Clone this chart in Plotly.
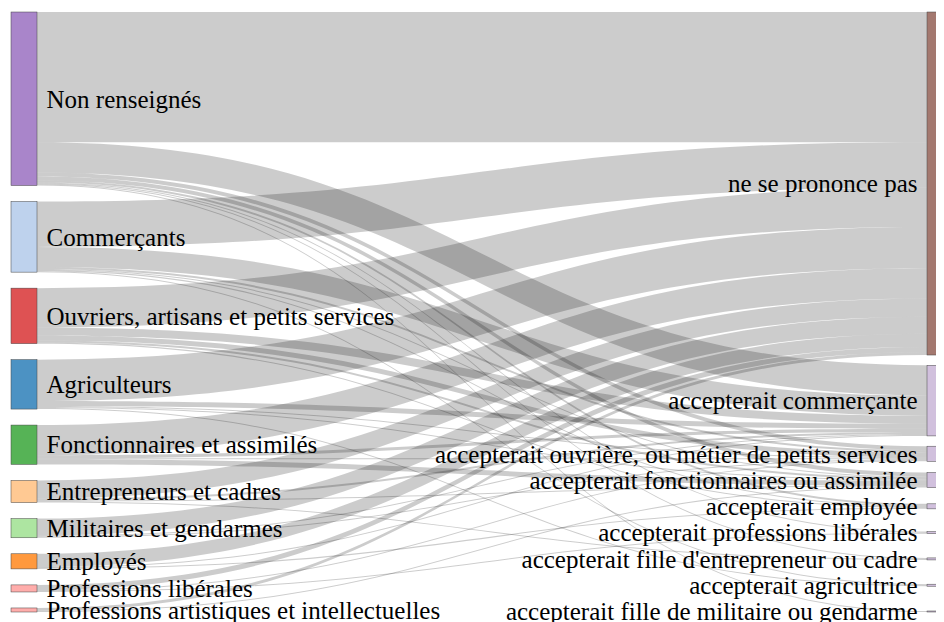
import plotly.graph_objects as go

# Left column (origin) and right column (answer) node labels
origins = [
    "Non renseignés",
    "Commerçants",
    "Ouvriers, artisans et petits services",
    "Agriculteurs",
    "Fonctionnaires et assimilés",
    "Entrepreneurs et cadres",
    "Militaires et gendarmes",
    "Employés",
    "Professions libérales",
    "Professions artistiques et intellectuelles",
]
answers = [
    "ne se prononce pas",
    "accepterait commerçante",
    "accepterait ouvrière, ou métier de petits services",
    "accepterait fonctionnaires ou assimilée",
    "accepterait employée",
    "accepterait professions libérales",
    "accepterait fille d'entrepreneur ou cadre",
    "accepterait agricultrice",
    "accepterait fille de militaire ou gendarme",
]

# Flows: one row per origin, one column per answer (estimated counts)
flows_non_renseignes = [129, 30, 4, 4, 2, 1, 1, 0, 1]
flows_commercants = [45, 20, 2, 1, 1, 0, 0, 1, 0]
flows_ouvriers = [39, 8, 5, 2, 1, 0, 0, 0, 0]
flows_agriculteurs = [41, 5, 1, 1, 0, 0, 0, 1, 0]
flows_fonctionnaires = [30, 3, 1, 5, 0, 0, 0, 0, 0]
flows_entrepreneurs = [18, 2, 0, 1, 0, 0, 1, 0, 0]
flows_militaires = [17, 1, 1, 0, 0, 0, 0, 0, 0]
flows_employes = [13, 1, 0, 0, 1, 0, 0, 0, 0]
flows_liberales = [5, 0, 1, 0, 0, 1, 0, 0, 0]
flows_artistiques = [3, 0, 0, 1, 0, 0, 0, 0, 0]

flows = [
    flows_non_renseignes, flows_commercants, flows_ouvriers, flows_agriculteurs,
    flows_fonctionnaires, flows_entrepreneurs, flows_militaires, flows_employes,
    flows_liberales, flows_artistiques,
]

origin_colors = ["#9467bd", "#aec7e8", "#d62728", "#1f77b4", "#2ca02c",
                 "#ffbb78", "#98df8a", "#ff7f0e", "#ff9896", "#ff9896"]
answer_colors = ["#8c564b"] + ["#c5b0d5"] * 8


def with_alpha(hex_color, a=0.8):
    h = hex_color.lstrip("#")
    r, g, b = int(h[0:2], 16), int(h[2:4], 16), int(h[4:6], 16)
    return f"rgba({r},{g},{b},{a})"


# ---- layout parameters ----
W, H = 948, 618
M = dict(l=3, r=3, t=4, b=14)
PAD = 16
THICK = 26
FONT_SIZE = 25
plot_w = W - M["l"] - M["r"]
plot_h = H - M["t"] - M["b"]

n_left = len(origins)
left_totals = [sum(r) for r in flows]
right_totals = [sum(r[j] for r in flows) for j in range(len(answers))]


def column_centers(totals, ky, min_gap=0.0, label_step=0.0):
    """Keep the given order; gaps are at least min_gap and leave room for
    labels (label_step between centres); leftover space is shared evenly."""
    hs = [t * ky for t in totals]
    gaps = [max(min_gap, label_step - (hs[i] + hs[i + 1]) / 2)
            for i in range(len(hs) - 1)]
    extra = (plot_h - sum(hs) - sum(gaps)) / len(gaps)
    gaps = [g + extra for g in gaps]
    ys, y = [], 0.0
    for i, h in enumerate(hs):
        ys.append((y + h / 2) / plot_h)
        y += h + (gaps[i] if i < len(gaps) else 0)
    return ys


ky = min((plot_h - (len(c) - 1) * PAD) / sum(c) for c in (left_totals, right_totals))
node_y = (column_centers(left_totals, ky)
          + column_centers(right_totals, ky, min_gap=10, label_step=FONT_SIZE + 1))
x_left = (THICK / 2) / plot_w
node_x = [x_left] * n_left + [1 - x_left] * len(answers)

labels = ["\u00a0" + s for s in origins] + [s + "\u00a0" for s in answers]
node_colors = [with_alpha(c) for c in origin_colors + answer_colors]

src, tgt, val = [], [], []
for i, row in enumerate(flows):
    for j, v in enumerate(row):
        if v > 0:
            src.append(i)
            tgt.append(n_left + j)
            val.append(v)

SERIF = "Times New Roman, Liberation Serif, serif"

fig = go.Figure(go.Sankey(
    arrangement="fixed",
    node=dict(
        label=labels,
        color=node_colors,
        pad=PAD,
        thickness=THICK,
        line=dict(color="#444", width=0.5),
        x=node_x,
        y=node_y,
    ),
    link=dict(source=src, target=tgt, value=val, color="rgba(0,0,0,0.2)"),
    textfont=dict(family=SERIF, size=FONT_SIZE, color="black", shadow="none"),
))

fig.update_layout(
    width=W,
    height=H,
    margin=M,
    font=dict(family=SERIF, size=FONT_SIZE, color="black"),
    paper_bgcolor="white",
    plot_bgcolor="white",
)

fig.write_html("out.html")
